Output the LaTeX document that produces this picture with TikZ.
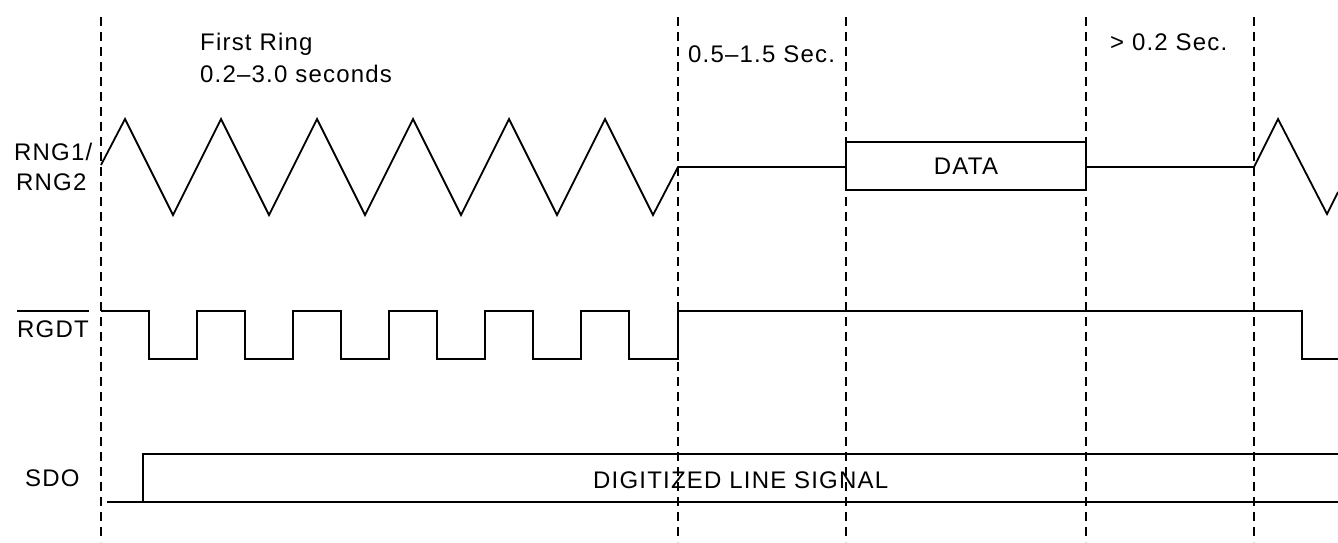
\documentclass[tikz,border=0pt]{standalone}
\usepackage{fontspec}
\setmainfont{Liberation Sans}[LetterSpace=5]
\begin{document}
\begin{tikzpicture}[x=1pt,y=-1pt,
  sig/.style={line width=1.8pt,line join=miter},
  guide/.style={line width=1.9pt,dash pattern=on 9pt off 6pt},
  lbl/.style={inner sep=0pt,font=\fontsize{24}{30}\selectfont},
  lblw/.style={lbl,anchor=base west}]
\useasboundingbox (0,0) rectangle (1338,542);
% guide lines
\foreach \gx in {101,678,846,1086,1254}
  \draw[guide] (\gx,17) -- (\gx,542);
% RNG1/RNG2 waveform
\draw[sig] (101,165) -- (125,119) -- (173,215) -- (221,119) -- (269,215) -- (317,119) -- (365,215) -- (413,119) -- (461,215) -- (509,119) -- (557,215) -- (605,119) -- (653,215) -- (678,167) -- (846,167);
\draw[sig, fill=white] (846,142) rectangle (1086,190);
\node[lbl] (data) at (966,166) {DATA};
\draw[sig] (1086,167) -- (1254,167) -- (1278,119) -- (1327,214) -- (1338,192);
% RGDT
\draw[sig] (101,311) -- (149,311) -- (149,359) -- (197,359) -- (197,311) -- (245,311) -- (245,359) -- (293,359) -- (293,311) -- (341,311) -- (341,359) -- (389,359) -- (389,311) -- (437,311) -- (437,359) -- (485,359) -- (485,311) -- (533,311) -- (533,359) -- (581,359) -- (581,311) -- (629,311) -- (629,359) -- (678,359) -- (678,311) -- (1302,311) -- (1302,359) -- (1338,359);
% SDO
\draw[sig] (107,502) -- (143,502) -- (143,454) -- (1338,454);
\draw[sig] (143,502) -- (1338,502);
% labels
\node[lblw] (rng1) at (14,160) {RNG1/};
\node[lblw] (rng2) at (16,190) {RNG2};
\node[lblw] (rgdt) at (17,337.5) {RGDT};
\draw[line width=1.6pt] (17,311) -- (89,311);
\node[lblw] (sdo) at (25,486) {SDO};
\node[lblw] (first) at (200,50.5) {First Ring};
\node[lblw] (firstt) at (200,82) {0.2--3.0 seconds};
\node[lblw] (t2) at (688,62) {0.5--1.5 Sec.};
\node[lblw] (t3) at (1110,50.5) {> 0.2 Sec.};
\node[lblw] (dls) at (593,488.5) {DIGITIZED LINE SIGNAL};
\end{tikzpicture}
\end{document}
